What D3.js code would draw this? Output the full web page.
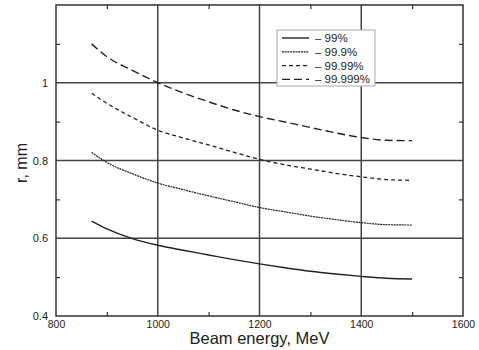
<!DOCTYPE html>
<html lang="en">
<head>
<meta charset="UTF-8">
<title>r vs beam energy</title>
<script src="https://cdn.jsdelivr.net/npm/d3@7/dist/d3.min.js"></script>
<style>
  body { margin: 0; background: #fff; }
  text { font-family: "Liberation Sans", Arial, sans-serif; fill: #222; }
</style>
</head>
<body>
<script>
let width = 479;
let height = 350;
let margin = {top: 5, right: 16, bottom: 34, left: 56};

// beam energy, MeV
let energy = [870, 900, 950, 1000, 1050, 1100, 1150, 1200, 1250, 1300, 1350, 1400, 1450, 1500];
let r99 = [0.644, 0.624, 0.599, 0.582, 0.569, 0.557, 0.545, 0.534, 0.524, 0.515, 0.508, 0.502, 0.497, 0.495];
let r999 = [0.821, 0.795, 0.766, 0.742, 0.725, 0.709, 0.694, 0.679, 0.668, 0.657, 0.648, 0.640, 0.635, 0.634];
let r9999 = [0.973, 0.947, 0.911, 0.878, 0.858, 0.840, 0.821, 0.803, 0.789, 0.778, 0.767, 0.758, 0.751, 0.749];
let r99999 = [1.100, 1.067, 1.032, 1.000, 0.974, 0.951, 0.930, 0.913, 0.899, 0.885, 0.871, 0.859, 0.852, 0.851];
let seriesNames = ['99%', '99.9%', '99.99%', '99.999%'];

let xMajor = [800, 1000, 1200, 1400, 1600];
let xMinor = [900, 1100, 1300, 1500];
let yMajor = [0.4, 0.6, 0.8, 1.0];
let yMinor = [0.5, 0.7, 0.9, 1.1];

let styles = [
  {dash: null, w: 1.4, c: '#222'},
  {dash: '2,0.7', w: 1.2, c: '#222'},
  {dash: '4,3', w: 1.3, c: '#222'},
  {dash: '8,4', w: 1.4, c: '#222'}
];

let x = d3.scaleLinear().domain([800, 1600]).range([margin.left, width - margin.right]);
let y = d3.scaleLinear().domain([0.4, 1.2]).range([height - margin.bottom, margin.top]);

let svg = d3.select('body').append('svg')
  .attr('width', width)
  .attr('height', height);

// grid
svg.append('g')
  .selectAll('line')
  .data([1000, 1200, 1400])
  .enter().append('line')
  .attr('x1', d => x(d)).attr('x2', d => x(d))
  .attr('y1', y(0.4)).attr('y2', y(1.2))
  .attr('stroke', '#444').attr('stroke-width', 1.5);

svg.append('g')
  .selectAll('line')
  .data([0.6, 0.8, 1.0])
  .enter().append('line')
  .attr('x1', x(800)).attr('x2', x(1600))
  .attr('y1', d => y(d)).attr('y2', d => y(d))
  .attr('stroke', '#444').attr('stroke-width', 1.5);

// axes with inward minor ticks
let tickLen = 4;
svg.append('g')
  .attr('transform', 'translate(0,' + y(0.4) + ')')
  .call(d3.axisBottom(x).tickValues(xMinor).tickSize(-tickLen).tickFormat(''));
svg.append('g')
  .attr('transform', 'translate(0,' + y(1.2) + ')')
  .call(d3.axisTop(x).tickValues(xMinor).tickSize(-tickLen).tickFormat(''));
svg.append('g')
  .attr('transform', 'translate(' + x(800) + ',0)')
  .call(d3.axisLeft(y).tickValues(yMinor).tickSize(-tickLen).tickFormat(''));
svg.append('g')
  .attr('transform', 'translate(' + x(1600) + ',0)')
  .call(d3.axisRight(y).tickValues(yMinor).tickSize(-tickLen).tickFormat(''));
svg.selectAll('.tick line').attr('stroke', '#333').attr('stroke-width', 1.2);

// tick labels
svg.append('g')
  .attr('transform', 'translate(0,' + y(0.4) + ')')
  .call(d3.axisBottom(x).tickValues(xMajor).tickSize(0).tickPadding(5).tickFormat(d3.format('d')))
  .selectAll('text')
  .attr('font-size', 10.5).attr('fill', '#222');

svg.append('g')
  .attr('transform', 'translate(' + x(800) + ',0)')
  .call(d3.axisLeft(y).tickValues(yMajor).tickSize(0).tickPadding(8).tickFormat(d => d === 1 ? '1' : d3.format('.1f')(d)))
  .selectAll('text')
  .attr('font-size', 11).attr('fill', '#222');

svg.selectAll('.domain').remove();

// frame
svg.append('rect')
  .attr('x', x(800)).attr('y', y(1.2))
  .attr('width', x(1600) - x(800)).attr('height', y(0.4) - y(1.2))
  .attr('fill', 'none').attr('stroke', '#333').attr('stroke-width', 1.5);

// curves
let allSeries = [r99, r999, r9999, r99999];
let line = d3.line()
  .x((d, i) => x(energy[i]))
  .y(d => y(d))
  .curve(d3.curveMonotoneX);

svg.append('g')
  .selectAll('path')
  .data(allSeries)
  .enter().append('path')
  .attr('d', d => line(d))
  .attr('fill', 'none')
  .attr('stroke', (d, i) => styles[i].c)
  .attr('stroke-width', (d, i) => styles[i].w)
  .attr('stroke-dasharray', (d, i) => styles[i].dash);

// legend
let legend = svg.append('g').attr('transform', 'translate(277,30)');
legend.append('rect')
  .attr('width', 98).attr('height', 56)
  .attr('fill', '#fff').attr('stroke', '#aaa').attr('stroke-width', 1);
let rows = legend.selectAll('g.row')
  .data(seriesNames)
  .enter().append('g')
  .attr('class', 'row')
  .attr('transform', (d, i) => 'translate(0,' + (8 + i * 13.8) + ')');
rows.append('line')
  .attr('x1', 5).attr('x2', 32)
  .attr('stroke', (d, i) => styles[i].c)
  .attr('stroke-width', (d, i) => styles[i].w)
  .attr('stroke-dasharray', (d, i) => styles[i].dash);
rows.append('text')
  .attr('x', 38).attr('dy', '0.35em')
  .attr('font-size', 11.5).attr('fill', '#333')
  .text(d => '\u2013 ' + d);

// axis titles
svg.append('text')
  .attr('x', (x(800) + x(1600)) / 2).attr('y', 344)
  .attr('text-anchor', 'middle')
  .attr('font-size', 16.5)
  .text('Beam energy, MeV');

svg.append('text')
  .attr('transform', 'translate(27,163) rotate(-90)')
  .attr('text-anchor', 'middle')
  .attr('font-size', 16)
  .text('r, mm');
</script>
</body>
</html>
